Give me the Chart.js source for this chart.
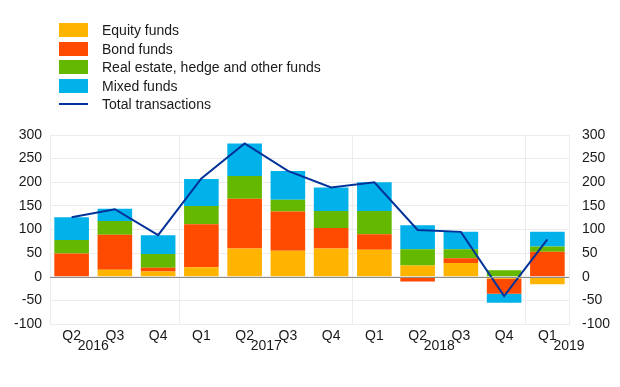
<!DOCTYPE html>
<html>
<head>
<meta charset="utf-8">
<script src="https://cdn.jsdelivr.net/npm/chart.js@4.4.1/dist/chart.umd.min.js"></script>
<style>
  html, body { margin: 0; padding: 0; background: #fff; }
  #wrap { position: relative; width: 620px; height: 387px; }
  #c { position: absolute; left: 0; top: 0; }
  #legend { position: absolute; left: 59px; top: 21px; font-family: "Liberation Sans", Arial, sans-serif; font-size: 14px; color: #1a1a1a; }
  .row { display: flex; align-items: center; height: 18.5px; }
  .sw { width: 29px; height: 14px; margin-right: 14px; }
  .ln { width: 29px; height: 2px; margin-right: 14px; }
</style>
</head>
<body>
<div id="wrap">
  <canvas id="c" width="620" height="387"></canvas>
  <div id="legend"></div>
</div>
<script>
const categories = ['Q2','Q3','Q4','Q1','Q2','Q3','Q4','Q1','Q2','Q3','Q4','Q1'];
const years = ['2016','2017','2018','2019'];
const yearPositions = [0.5, 4.5, 8.5, 11.5];
const yearBoundaries = [3, 7, 11];

const equityFunds = [0, 15, 11, 20, 60, 55, 60, 57, 24, 29, -4, -16];
const bondFunds = [49, 74, 8, 91, 105, 83, 43, 33, -10, 10, -32, 53];
const otherFunds = [29, 29, 29, 39, 48, 25, 36, 49, 34, 19, 14, 11];
const mixedFunds = [48, 26, 40, 57, 69, 61, 50, 61, 51, 37, -19, 31];
const totalTransactions = [126, 143, 88, 208, 282, 224, 189, 200, 99, 95, -41, 79];

const seriesNames = ['Equity funds', 'Bond funds', 'Real estate, hedge and other funds', 'Mixed funds', 'Total transactions'];
const seriesColors = ['#FFB400', '#FF4B00', '#65B800', '#00B1EA', '#003299'];

const FONT = '"Liberation Sans", Arial, sans-serif';
const TEXT = '#1a1a1a';

// legend (HTML)
const legend = document.getElementById('legend');
seriesNames.forEach((n, i) => {
  const r = document.createElement('div');
  r.className = 'row';
  const s = document.createElement('div');
  s.className = i < 4 ? 'sw' : 'ln';
  s.style.background = seriesColors[i];
  const t = document.createElement('span');
  t.textContent = n;
  r.appendChild(s); r.appendChild(t);
  legend.appendChild(r);
});

const barData = [equityFunds, bondFunds, otherFunds, mixedFunds];
const datasets = barData.map((d, i) => ({
  type: 'bar',
  label: seriesNames[i],
  data: d,
  backgroundColor: seriesColors[i],
  borderWidth: 0,
  stack: 's',
  yAxisID: 'y',
  categoryPercentage: 1.0,
  barPercentage: 0.8,
  order: 2
}));
datasets.push({
  type: 'line',
  label: seriesNames[4],
  data: totalTransactions,
  borderColor: seriesColors[4],
  borderWidth: 2,
  pointRadius: 0,
  tension: 0,
  fill: false,
  yAxisID: 'y',
  order: 0
});

const extras = {
  id: 'extras',
  afterDatasetsDraw(chart) {
    const ctx = chart.ctx;
    const x = chart.scales.x, y = chart.scales.y;
    const ca = chart.chartArea;
    // zero line
    const y0 = Math.round(y.getPixelForValue(0)) + 0.5;
    ctx.save();
    ctx.strokeStyle = '#8c8c8c';
    ctx.lineWidth = 1;
    ctx.beginPath();
    ctx.moveTo(ca.left, y0); ctx.lineTo(ca.right, y0);
    ctx.stroke();
    ctx.restore();
  },
  afterDraw(chart) {
    const ctx = chart.ctx;
    const x = chart.scales.x;
    ctx.save();
    ctx.font = '14px ' + FONT;
    ctx.fillStyle = TEXT;
    ctx.textAlign = 'center';
    ctx.textBaseline = 'middle';
    years.forEach((yr, i) => {
      ctx.fillText(yr, x.getPixelForValue(yearPositions[i]), 346);
    });
    ctx.restore();
  }
};

const gridColor = '#ececec';

new Chart(document.getElementById('c'), {
  data: { labels: categories, datasets },
  options: {
    responsive: false,
    animation: false,
    events: [],
    layout: { padding: { top: 135, left: 0, right: 0, bottom: 0 } },
    plugins: { legend: { display: false }, tooltip: { enabled: false } },
    scales: {
      x: {
        stacked: true,
        offset: true,
        grid: {
          offset: true,
          drawTicks: false,
          color: (c) => (yearBoundaries.includes(c.index) || c.index === categories.length) ? gridColor : 'rgba(0,0,0,0)'
        },
        border: { display: true, color: gridColor },
        ticks: { font: { size: 14, family: FONT }, color: TEXT, padding: 4, maxRotation: 0, autoSkip: false },
        afterFit: (s) => { s.height = 63; }
      },
      y: {
        position: 'left',
        stacked: true,
        min: -100, max: 300,
        grid: { color: gridColor, drawTicks: false },
        border: { display: true, color: gridColor },
        ticks: { stepSize: 50, font: { size: 14, family: FONT }, color: TEXT, padding: 8 },
        afterFit: (s) => { s.width = 50; }
      },
      y2: {
        position: 'right',
        min: -100, max: 300,
        grid: { display: false, drawTicks: false },
        border: { display: true, color: gridColor },
        ticks: { stepSize: 50, font: { size: 14, family: FONT }, color: TEXT, padding: 13 },
        afterFit: (s) => { s.width = 51; }
      }
    }
  },
  plugins: [extras]
});
</script>
</body>
</html>
